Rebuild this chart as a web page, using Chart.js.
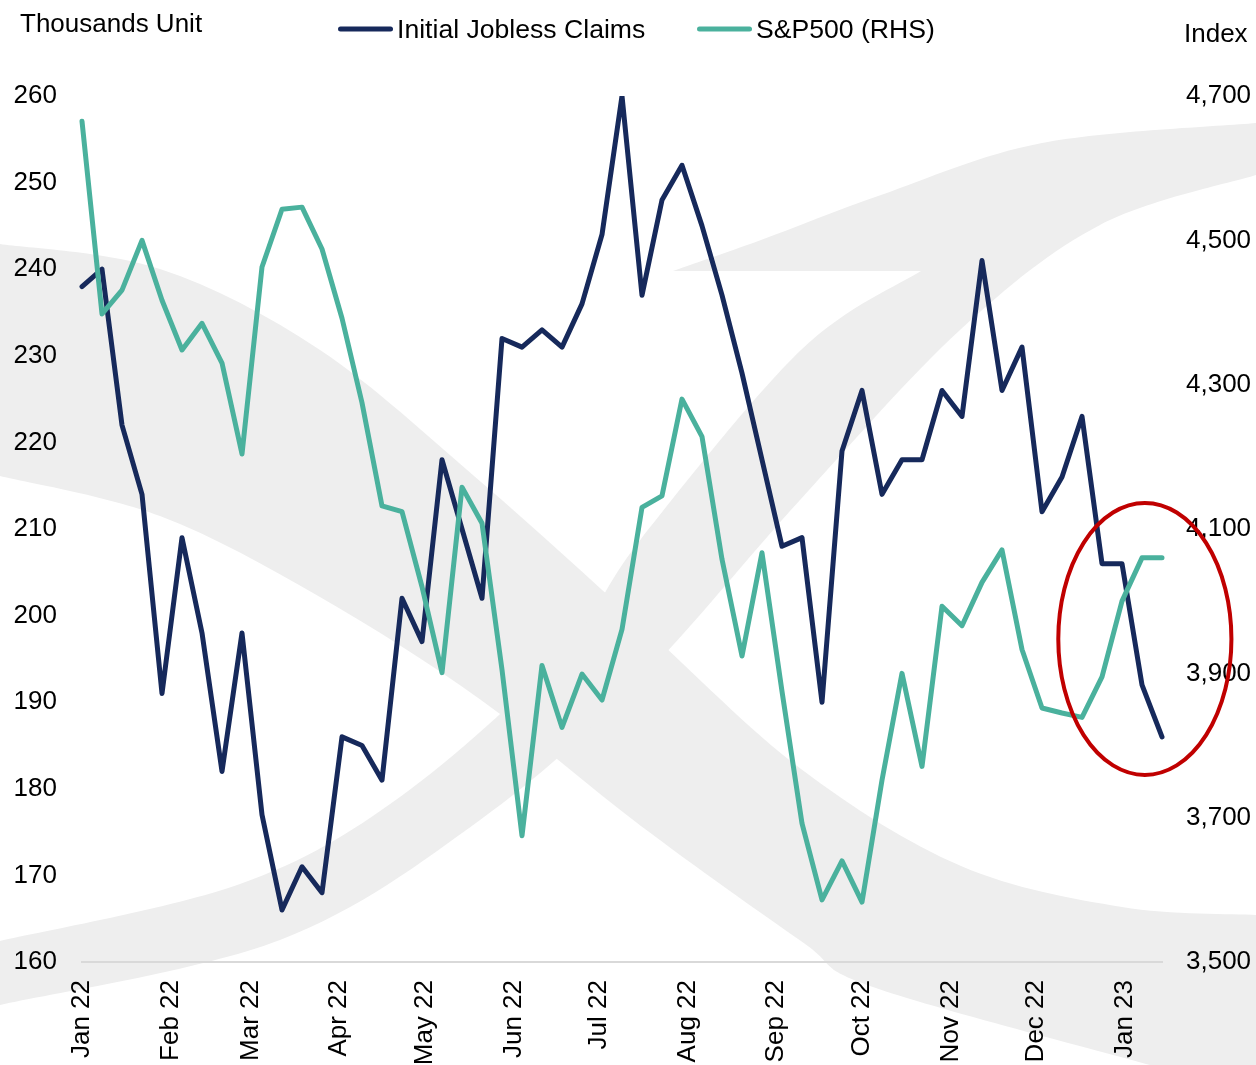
<!DOCTYPE html>
<html>
<head>
<meta charset="utf-8">
<script src="https://cdn.jsdelivr.net/npm/chart.js@4.4.0/dist/chart.umd.min.js"></script>
<style>
html,body{margin:0;padding:0;background:#fff;}
canvas{display:block;}
</style>
</head>
<body>
<canvas id="c" width="1256" height="1065"></canvas>
<script>
// ---------------- DATA ----------------
const weekDates = [
  "2022-01-01","2022-01-08","2022-01-15","2022-01-22","2022-01-29",
  "2022-02-05","2022-02-12","2022-02-19","2022-02-26",
  "2022-03-05","2022-03-12","2022-03-19","2022-03-26",
  "2022-04-02","2022-04-09","2022-04-16","2022-04-23","2022-04-30",
  "2022-05-07","2022-05-14","2022-05-21","2022-05-28",
  "2022-06-04","2022-06-11","2022-06-18","2022-06-25",
  "2022-07-02","2022-07-09","2022-07-16","2022-07-23","2022-07-30",
  "2022-08-06","2022-08-13","2022-08-20","2022-08-27",
  "2022-09-03","2022-09-10","2022-09-17","2022-09-24",
  "2022-10-01","2022-10-08","2022-10-15","2022-10-22","2022-10-29",
  "2022-11-05","2022-11-12","2022-11-19","2022-11-26",
  "2022-12-03","2022-12-10","2022-12-17","2022-12-24","2022-12-31",
  "2023-01-07","2023-01-14"
];
const joblessClaims = [
  238,240,222,214,191,209,198,182,198,177,166,171,168,186,185,181,202,197,218,210,
  202,232,231,233,231,236,244,260,237,248,252,245,237,228,218,208,209,190,219,226,
  214,218,218,226,223,241,226,231,212,216,223,206,206,192,186
];
const sp500 = [
  4665,4398,4431,4500,4417,4348,4385,4330,4204,4463,4543,4546,4488,4392,4275,4132,4124,4020,3901,4158,
  4108,3905,3675,3911,3825,3899,3863,3961,4130,4146,4280,4228,4058,3924,4067,3875,3692,3586,3640,3583,
  3752,3900,3771,3993,3966,4026,4071,3933,3852,3845,3839,3895,4000,4060,4060
];
const monthTickDates = [
  "2022-01-01","2022-02-01","2022-03-01","2022-04-01","2022-05-01","2022-06-01","2022-07-01",
  "2022-08-01","2022-09-01","2022-10-01","2022-11-01","2022-12-01","2023-01-01"
];
const monthTickLabels = [
  "Jan 22","Feb 22","Mar 22","Apr 22","May 22","Jun 22","Jul 22",
  "Aug 22","Sep 22","Oct 22","Nov 22","Dec 22","Jan 23"
];
const seriesNames = ["Initial Jobless Claims", "S&P500 (RHS)"];
const leftAxisTitle = "Thousands Unit";
const rightAxisTitle = "Index";
const leftRange = [160, 260, 10];
const rightRange = [3500, 4700, 200];
// highlighted region (ellipse) in data units: centre date, centre claims value, half-width (days), half-height (claims)
const highlightCenterDate = "2023-01-08";
const highlightCenterValue = 197.3;
const highlightHalfDays = 30.3;
const highlightHalfValue = 15.7;

// ---------------- STYLE ----------------
const FONT = '"Liberation Sans", Arial, Helvetica, sans-serif';
const NAVY = '#16295B';
const TEAL = '#4AB19D';
const WM = '#EEEEEE';

function dayNum(s){
  const p = s.split('-').map(Number);
  return Date.UTC(p[0], p[1]-1, p[2]) / 86400000;
}

// smooth curve helper (Catmull-Rom -> Bezier)
function curveThrough(ctx, pts, start){
  if (start) ctx.moveTo(pts[0][0], pts[0][1]); else ctx.lineTo(pts[0][0], pts[0][1]);
  for (let i = 0; i < pts.length - 1; i++){
    const p0 = pts[Math.max(0, i-1)], p1 = pts[i], p2 = pts[i+1], p3 = pts[Math.min(pts.length-1, i+2)];
    ctx.bezierCurveTo(p1[0] + (p2[0]-p0[0])/6, p1[1] + (p2[1]-p0[1])/6,
                      p2[0] - (p3[0]-p1[0])/6, p2[1] - (p3[1]-p1[1])/6,
                      p2[0], p2[1]);
  }
}

const backgroundPlugin = {
  id: 'bgWatermark',
  beforeDraw(chart){
    const ctx = chart.ctx;
    const sx = chart.width/1256, sy = chart.height/1065;
    const S = arr => arr.map(p => [p[0]*sx, p[1]*sy]);
    ctx.save();
    ctx.fillStyle = '#ffffff';
    ctx.fillRect(0, 0, chart.width, chart.height);
    ctx.fillStyle = WM;
    // band descending from upper-left to lower-right
    ctx.beginPath();
    curveThrough(ctx, S([[0,244],[160,269],[320,350],[481,482],[641,625],[801,769],[961,866],[1122,907],[1256,915]]), true);
    ctx.lineTo(1256*sx, 1065*sy);
    curveThrough(ctx, S([[1150,1065],[873,987],[801,941],[641,826],[481,700],[320,597],[160,516],[0,476]]), false);
    ctx.closePath();
    ctx.fill();
    // upper wedge + band descending from upper-right to lower-left
    ctx.beginPath();
    ctx.moveTo(673*sx, 271*sy);
    ctx.lineTo(921*sx, 271*sy);
    curveThrough(ctx, S([[921,271],[801,350],[641,539],[561,654],[400,797],[240,884],[0,941]]), false);
    ctx.lineTo(0, 1005*sy);
    curveThrough(ctx, S([[0,1005],[280,940],[480,820],[640,680],[800,500],[960,330],[1100,225],[1256,175]]), false);
    ctx.lineTo(1256*sx, 123*sy);
    curveThrough(ctx, S([[1256,123],[1042,143],[881,195],[761,240],[673,271]]), false);
    ctx.closePath();
    ctx.fill();
    ctx.restore();
  }
};

const overlayPlugin = {
  id: 'overlay',
  afterDraw(chart){
    const ctx = chart.ctx;
    const xs = chart.scales.x, ys = chart.scales.y;
    ctx.save();
    // highlight ellipse
    const cx = xs.getPixelForValue(dayNum(highlightCenterDate));
    const cy = ys.getPixelForValue(highlightCenterValue);
    const rx = Math.abs(xs.getPixelForValue(dayNum(highlightCenterDate) + highlightHalfDays) - cx);
    const ry = Math.abs(ys.getPixelForValue(highlightCenterValue + highlightHalfValue) - cy);
    ctx.beginPath();
    ctx.ellipse(cx, cy, rx, ry, 0, 0, Math.PI*2);
    ctx.strokeStyle = '#C00000';
    ctx.lineWidth = 4;
    ctx.stroke();

    // axis titles
    ctx.font = '26px ' + FONT;
    ctx.fillStyle = '#000';
    ctx.textBaseline = 'alphabetic';
    ctx.textAlign = 'left';
    ctx.fillText(leftAxisTitle, 20, 32);
    ctx.fillText(rightAxisTitle, 1184, 42);

    // legend
    ctx.font = '26.6px ' + FONT;
    const items = [
      {name: seriesNames[0], color: NAVY, x: 338},
      {name: seriesNames[1], color: TEAL, x: 697}
    ];
    const lineLen = 55, gap = 4, ly = 29;
    items.forEach(it => {
      ctx.beginPath();
      ctx.moveTo(it.x + 2.5, ly);
      ctx.lineTo(it.x + lineLen - 2.5, ly);
      ctx.strokeStyle = it.color;
      ctx.lineWidth = 5;
      ctx.lineCap = 'round';
      ctx.stroke();
      ctx.fillText(it.name, it.x + lineLen + gap, 38);
    });
    ctx.restore();
  }
};

const tickFont = {size: 26, family: FONT};

new Chart(document.getElementById('c'), {
  type: 'line',
  data: {
    datasets: [
      {
        label: seriesNames[0],
        data: weekDates.map((d, i) => ({x: dayNum(d), y: joblessClaims[i]})),
        borderColor: NAVY,
        borderWidth: 5,
        yAxisID: 'y',
        order: 1,
        clip: {left: 10, right: 10, top: 0, bottom: 10}
      },
      {
        label: seriesNames[1],
        data: weekDates.map((d, i) => ({x: dayNum(d), y: sp500[i]})),
        borderColor: TEAL,
        borderWidth: 5,
        yAxisID: 'y1',
        order: 0,
        clip: {left: 10, right: 10, top: 0, bottom: 10}
      }
    ]
  },
  options: {
    responsive: false,
    animation: false,
    devicePixelRatio: 1,
    layout: {padding: {top: 96, left: 0, right: 0, bottom: 0}},
    elements: {
      point: {radius: 0, hoverRadius: 0},
      line: {tension: 0, borderCapStyle: 'round', borderJoinStyle: 'round', fill: false}
    },
    plugins: {legend: {display: false}, tooltip: {enabled: false}, title: {display: false}},
    scales: {
      x: {
        type: 'linear',
        min: dayNum(weekDates[0]),
        max: dayNum(weekDates[weekDates.length-1]),
        afterBuildTicks: s => { s.ticks = monthTickDates.map(d => ({value: dayNum(d)})); },
        afterFit: s => { s.height = 103; },
        grid: {display: false, drawTicks: false},
        border: {display: true, color: '#D9D9D9', width: 2},
        ticks: {
          autoSkip: false, maxRotation: 90, minRotation: 90, padding: 18,
          color: '#000', font: tickFont,
          callback: (v, i) => monthTickLabels[i]
        }
      },
      y: {
        position: 'left',
        min: leftRange[0], max: leftRange[1],
        afterFit: s => { s.width = 82; },
        grid: {display: false, drawTicks: false},
        border: {display: false},
        ticks: {stepSize: leftRange[2], padding: 25, color: '#000', font: tickFont}
      },
      y1: {
        position: 'right',
        min: rightRange[0], max: rightRange[1],
        afterFit: s => { s.width = 94; },
        grid: {display: false, drawTicks: false},
        border: {display: false},
        ticks: {stepSize: rightRange[2], padding: 24, color: '#000', font: tickFont,
                callback: v => v.toLocaleString('en-US')}
      }
    }
  },
  plugins: [backgroundPlugin, overlayPlugin]
});
</script>
</body>
</html>
